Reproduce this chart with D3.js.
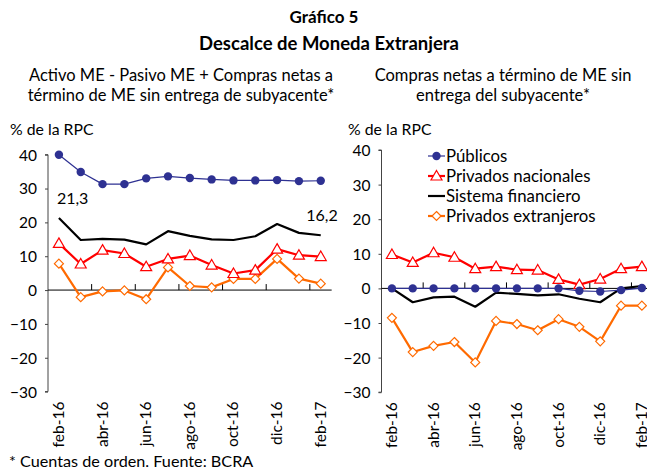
<!DOCTYPE html>
<html>
<head>
<meta charset="utf-8">
<script src="https://cdn.jsdelivr.net/npm/d3@7"></script>
<style>
  body { margin: 0; background: #fff; }
  svg text { font-family: Lato, "Open Sans", sans-serif; fill: #000; }
</style>
</head>
<body>
<svg id="chart" width="647" height="470"></svg>
<script>
// months shown on both panels
const months = ["feb-16", "mar-16", "abr-16", "may-16", "jun-16", "jul-16", "ago-16",
  "sep-16", "oct-16", "nov-16", "dic-16", "ene-17", "feb-17"];
const yTicks = [40, 30, 20, 10, 0, -10, -20, -30];

// left panel: Activo ME - Pasivo ME + compras netas a término
const leftPublicos = [40, 34.9, 31.3, 31.3, 33, 33.6, 33.1, 32.7, 32.4, 32.4, 32.5, 32.2, 32.3];
const leftNacionales = [13.8, 7.7, 11.8, 10.8, 6.9, 9.2, 10.2, 7.4, 4.9, 5.9, 12.1, 10.3, 9.9];
const leftSistema = [21.3, 14.8, 15.1, 14.9, 13.5, 17.4, 16.0, 15.0, 14.8, 15.9, 19.5, 16.9, 16.2];
const leftExtranjeros = [7.8, -2.1, -0.4, -0.1, -2.7, 6.7, 1.2, 0.8, 3.3, 3.3, 9.2, 3.4, 1.9];

// right panel: compras netas a término sin entrega del subyacente
const rightPublicos = [0, 0, 0, 0, 0, 0, 0, 0, 0, -0.7, -0.9, -0.5, 0.1];
const rightNacionales = [9.8, 7.5, 10.3, 9.0, 5.7, 6.3, 5.4, 5.3, 2.6, 1.1, 2.7, 5.7, 6.3];
const rightSistema = [0, -4.0, -2.6, -2.4, -5.3, -1.2, -1.6, -2.0, -1.7, -3.0, -4.0, 0, 0.7];
const rightExtranjeros = [-8.5, -18.4, -16.6, -15.5, -21.4, -9.4, -10.3, -12.1, -8.9, -11.1, -15.3, -5.0, -5.0];

const seriesNames = ["Públicos", "Privados nacionales", "Sistema financiero", "Privados extranjeros"];

const STYLE = {
  "Públicos": { color: "#2e3192", width: 1.2, marker: "circle" },
  "Privados nacionales": { color: "#ff0000", width: 2.2, marker: "triangle" },
  "Sistema financiero": { color: "#000000", width: 2.2, marker: null },
  "Privados extranjeros": { color: "#ff6a00", width: 2.2, marker: "diamond" }
};

const svg = d3.select("#chart");

// titles
svg.append("text").attr("x", 324).attr("y", 23).attr("text-anchor", "middle")
  .attr("font-size", 17).attr("font-weight", "bold").text("Gráfico 5");
svg.append("text").attr("x", 329).attr("y", 50).attr("text-anchor", "middle")
  .attr("font-size", 18.5).attr("font-weight", "bold").text("Descalce de Moneda Extranjera");

function subtitle(x, lines) {
  lines.forEach((t, i) => {
    svg.append("text").attr("x", x).attr("y", 81 + i * 20).attr("text-anchor", "middle")
      .attr("font-size", 16.5).text(t);
  });
}
subtitle(181, ["Activo ME - Pasivo ME + Compras netas a", "término de ME sin entrega de subyacente*"]);
subtitle(503, ["Compras netas a término de ME sin", "entrega del subyacente*"]);

function drawPanel(p) {
  const x = d3.scaleBand().domain(months).range([p.x0, p.x0 + p.bw * months.length]);
  const y = d3.scaleLinear().domain([-30, 40]).range([p.yBottom, p.yTop]);
  const g = svg.append("g");

  g.append("text").attr("x", p.labelX).attr("y", 135).attr("font-size", 15.8).text("% de la RPC");

  // y axis
  const yAxis = g.append("g").attr("transform", `translate(${p.x0},0)`)
    .call(d3.axisLeft(y).tickValues(yTicks).tickSize(3).tickPadding(8));
  yAxis.select(".domain").attr("stroke", "#444").attr("d", `M-3,${y(-30)}H0V${y(40)}H-3`);
  yAxis.selectAll(".tick line").attr("stroke", "#444");
  yAxis.selectAll(".tick text").attr("font-size", 15.5).attr("font-family", "Lato, sans-serif").attr("dy", "0.35em");

  // zero line with ticks every second month boundary
  g.append("line").attr("x1", p.x0).attr("x2", x.range()[1])
    .attr("y1", y(0)).attr("y2", y(0)).attr("stroke", "#000").attr("stroke-width", 1);
  months.forEach((m, i) => {
    if (i > 0 && i % 2 === 0) {
      const bx = x(m);
      g.append("line").attr("x1", bx).attr("x2", bx).attr("y1", y(0)).attr("y2", y(0) - 6)
        .attr("stroke", "#000");
    }
  });

  // month labels, rotated
  months.forEach((m, i) => {
    if (i % 2 !== 0) return;
    const cx = x(m) + x.bandwidth() / 2;
    g.append("text")
      .attr("transform", `translate(${cx + 5},${p.yBottom + 10}) rotate(-90)`)
      .attr("text-anchor", "end").attr("font-size", 15.5).text(m);
  });

  const line = d3.line().x((d, i) => x(months[i]) + x.bandwidth() / 2).y(d => y(d));
  const draw = ["Sistema financiero", "Privados extranjeros", "Privados nacionales", "Públicos"];
  draw.forEach(name => {
    const vals = p.data[name];
    const st = STYLE[name];
    g.append("path").datum(vals).attr("d", line).attr("fill", "none")
      .attr("stroke", st.color).attr("stroke-width", st.width).attr("stroke-linejoin", "round");
    vals.forEach((v, i) => {
      drawMarker(g, st, x(months[i]) + x.bandwidth() / 2, y(v));
    });
  });

  return { x, y };
}

function drawMarker(g, st, cx, cy) {
  if (st.marker === "circle") {
    g.append("circle").attr("cx", cx).attr("cy", cy).attr("r", 4.2).attr("fill", st.color);
  } else if (st.marker === "triangle") {
    g.append("path").attr("d", `M${cx},${cy - 5.5}L${cx + 5.5},${cy + 4}L${cx - 5.5},${cy + 4}Z`)
      .attr("fill", "#fff").attr("stroke", st.color).attr("stroke-width", 1.2);
  } else if (st.marker === "diamond") {
    g.append("path").attr("d", `M${cx},${cy - 4.5}L${cx + 4.5},${cy}L${cx},${cy + 4.5}L${cx - 4.5},${cy}Z`)
      .attr("fill", "#fff").attr("stroke", st.color).attr("stroke-width", 1.2);
  }
}

const left = drawPanel({
  x0: 48, bw: 21.82, yTop: 154.7, yBottom: 391.6, labelX: 10,
  data: {
    "Públicos": leftPublicos, "Privados nacionales": leftNacionales,
    "Sistema financiero": leftSistema, "Privados extranjeros": leftExtranjeros
  }
});
const right = drawPanel({
  x0: 381.5, bw: 20.83, yTop: 150, yBottom: 392.2, labelX: 348,
  data: {
    "Públicos": rightPublicos, "Privados nacionales": rightNacionales,
    "Sistema financiero": rightSistema, "Privados extranjeros": rightExtranjeros
  }
});

// first and last values of the black line on the left panel
svg.append("text").attr("x", left.x(months[0]) + left.x.bandwidth() / 2 - 2)
  .attr("y", left.y(leftSistema[0]) - 14).attr("font-size", 16)
  .text(leftSistema[0].toFixed(1).replace(".", ","));
svg.append("text").attr("x", left.x(months[12]) + left.x.bandwidth() / 2 + 17)
  .attr("y", left.y(leftSistema[12]) - 14).attr("text-anchor", "end").attr("font-size", 16)
  .text(leftSistema[12].toFixed(1).replace(".", ","));

// legend inside the right panel
const legend = svg.append("g").attr("transform", "translate(428,156)");
seriesNames.forEach((name, i) => {
  const st = STYLE[name];
  const row = legend.append("g").attr("transform", `translate(0,${i * 20})`);
  row.append("line").attr("x1", 0).attr("x2", 17).attr("stroke", st.color).attr("stroke-width", st.width);
  drawMarker(row, st, 8.5, 0);
  row.append("text").attr("x", 18).attr("y", 0).attr("dy", "0.35em").attr("font-size", 16.8).text(name);
});

svg.append("text").attr("x", 9).attr("y", 467).attr("font-size", 16.2)
  .text("* Cuentas de orden. Fuente: BCRA");
</script>
</body>
</html>
